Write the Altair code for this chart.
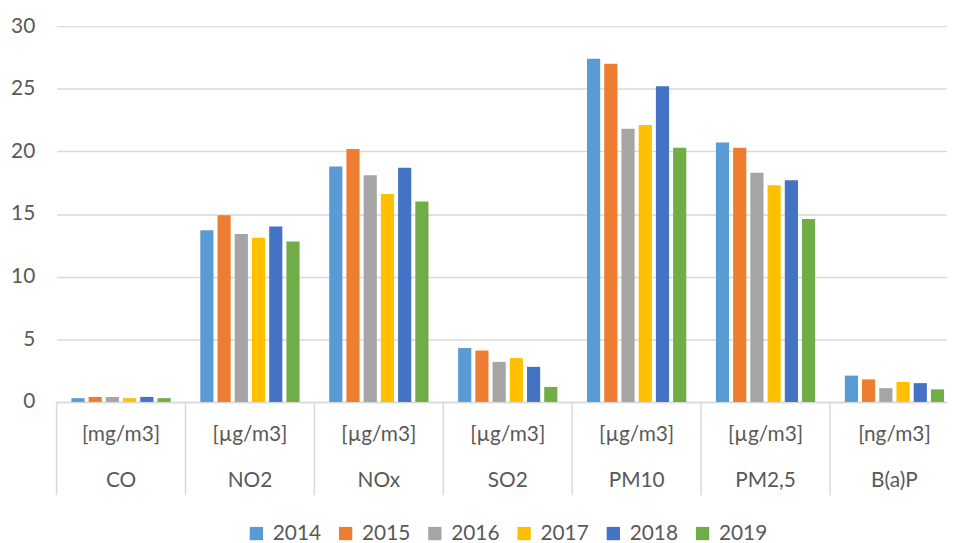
import altair as alt
import pandas as pd

cats = ["CO", "NO2", "NOx", "SO2", "PM10", "PM2,5", "B(a)P"]
units = ["[mg/m3]", "[µg/m3]", "[µg/m3]", "[µg/m3]", "[µg/m3]", "[µg/m3]", "[ng/m3]"]
years = ["2014", "2015", "2016", "2017", "2018", "2019"]
v2014 = [0.3, 13.7, 18.8, 4.3, 27.4, 20.7, 2.1]
v2015 = [0.4, 14.9, 20.2, 4.1, 27.0, 20.3, 1.8]
v2016 = [0.4, 13.4, 18.1, 3.2, 21.8, 18.3, 1.1]
v2017 = [0.3, 13.1, 16.6, 3.5, 22.1, 17.3, 1.6]
v2018 = [0.4, 14.0, 18.7, 2.8, 25.2, 17.7, 1.5]
v2019 = [0.3, 12.8, 16.0, 1.2, 20.3, 14.6, 1.0]
colors = ["#5B9BD5", "#ED7D31", "#A5A5A5", "#FFC000", "#4472C4", "#70AD47"]
yticks = [0, 5, 10, 15, 20, 25, 30]

series = [v2014, v2015, v2016, v2017, v2018, v2019]
rows = []
for y, vals in zip(years, series):
    for c, v in zip(cats, vals):
        rows.append({"cat": c, "year": y, "value": v})
df = pd.DataFrame(rows)
lab = pd.DataFrame({"cat": cats, "unit": units})

FONT = "Lato"
GRAY = "#595959"
LINE = "#D9D9D9"

xscale = alt.Scale(domain=cats, paddingInner=0, paddingOuter=0)

bars = alt.Chart(df).mark_bar().encode(
    x=alt.X("cat:N", sort=cats, scale=xscale,
            axis=alt.Axis(title=None, labels=False, ticks=False, grid=False,
                          domainColor=LINE, domainWidth=1.5)),
    xOffset=alt.XOffset("year:N", sort=years,
                        scale=alt.Scale(paddingInner=0.235, paddingOuter=0.86)),
    y=alt.Y("value:Q", scale=alt.Scale(domain=[0, 30], nice=False),
            axis=alt.Axis(title=None, values=yticks, domain=False, ticks=False,
                          gridColor=LINE, gridWidth=1.5, labelFontSize=21,
                          labelFont=FONT, labelColor=GRAY, labelPadding=22)),
    color=alt.Color("year:N", sort=years,
                    scale=alt.Scale(domain=years, range=colors),
                    legend=alt.Legend(title=None, orient="none", direction="horizontal",
                                      legendX=191, legendY=501, symbolType="square",
                                      symbolSize=180, symbolStrokeWidth=0,
                                      labelFontSize=21, labelFont=FONT, labelColor=GRAY,
                                      labelOffset=6, columnPadding=14)),
)

seps = alt.Chart(lab).mark_rule(color=LINE, strokeWidth=1.5).encode(
    x=alt.X("cat:N", sort=cats, bandPosition=0),
    y=alt.value(379),
    y2=alt.value(473),
)

unit_text = alt.Chart(lab).mark_text(font=FONT, fontSize=21, color=GRAY,
                                     baseline="middle").encode(
    x=alt.X("cat:N", sort=cats),
    y=alt.value(412),
    text="unit:N",
)

name_text = alt.Chart(lab).mark_text(font=FONT, fontSize=21, color=GRAY,
                                     baseline="middle").encode(
    x=alt.X("cat:N", sort=cats),
    y=alt.value(459),
    text="cat:N",
)

chart = alt.layer(bars, seps, unit_text, name_text).properties(
    width=910, height=379,
    padding={"left": 49, "top": 16, "right": -12, "bottom": 140},
    autosize=alt.AutoSizeParams(type="none"),
).configure_view(stroke=None)

chart.save("out.html", embed_options={"renderer": "svg", "actions": False})
